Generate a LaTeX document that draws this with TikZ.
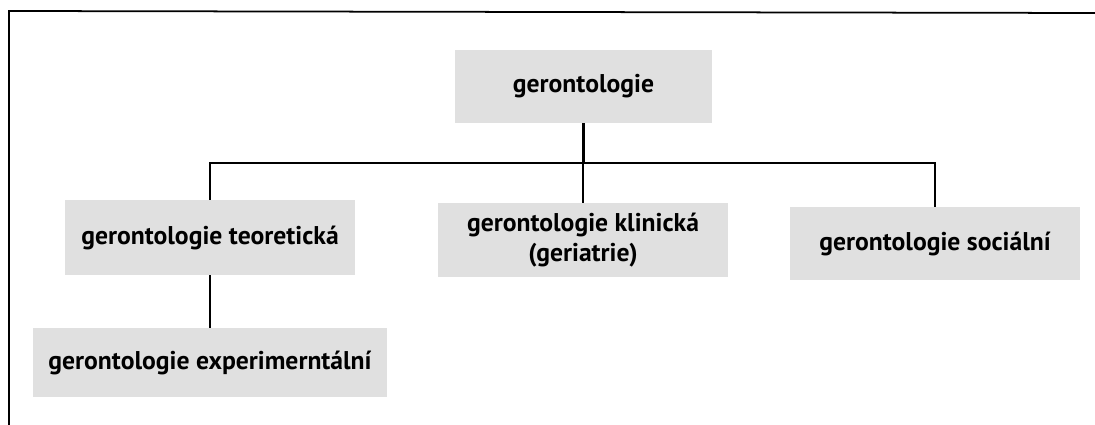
\documentclass[tikz,border=0pt]{standalone}
\usepackage{fontspec}
\setmainfont{PT Sans}
\usetikzlibrary{calc}

\tikzset{
  oborbox/.style={fill=black!12, inner sep=0pt, align=center,
    font=\fontsize{14.6}{17.5}\selectfont\bfseries},
  spoj/.style={line width=1.4pt}
}

\begin{document}
\begin{tikzpicture}[x=0.02cm, y=-0.02cm]
  \useasboundingbox (0,0) rectangle (1095,425);
  \draw[line width=1pt] (9,425) -- (9,11) -- (1095,13);

  \node[oborbox, minimum width=5.14cm, minimum height=1.46cm] (ger) at (583.5,86.5) {gerontologie};
  \node[oborbox, minimum width=5.8cm, minimum height=1.5cm] (teo) at (210,237.5) {gerontologie teoretická};
  \node[oborbox, minimum width=5.8cm, minimum height=1.48cm] (kli) at (583,240) {gerontologie klinická\\(geriatrie)};
  \node[oborbox, minimum width=5.8cm, minimum height=1.46cm] (soc) at (935,243.5) {gerontologie sociální};
  \node[oborbox, minimum width=7.1cm, minimum height=1.38cm] (exp) at (210,362.5) {gerontologie experimerntální};

  \coordinate (bus) at (0,163);
  \draw[spoj] (ger.south) -- (ger.south |- bus);
  \draw[spoj] (teo.north) -- (teo.north |- bus) -- (soc.north |- bus) -- (soc.north);
  \draw[spoj] (kli.north) -- (kli.north |- bus);
  \draw[spoj] (teo.south) -- (exp.north);
\end{tikzpicture}
\end{document}
